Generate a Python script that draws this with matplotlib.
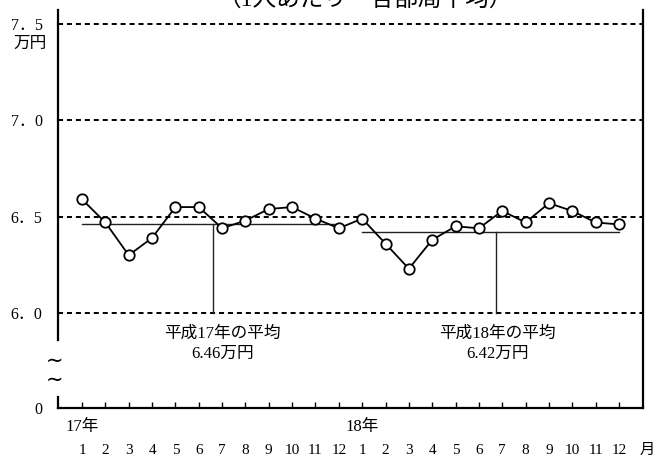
import numpy as np
import matplotlib
matplotlib.use('Agg')
import matplotlib.pyplot as plt
import matplotlib.transforms as mtransforms

plt.rcParams['font.family'] = ['Liberation Serif', 'Noto Sans CJK JP']

# データ（万円）
months = [1, 2, 3, 4, 5, 6, 7, 8, 9, 10, 11, 12,
          1, 2, 3, 4, 5, 6, 7, 8, 9, 10, 11, 12]
values = [6.59, 6.47, 6.30, 6.39, 6.55, 6.55, 6.44, 6.48, 6.54, 6.55, 6.49, 6.44,
          6.49, 6.36, 6.23, 6.38, 6.45, 6.44, 6.53, 6.47, 6.57, 6.53, 6.47, 6.46]
year_labels = ['17年', '18年']
avg_values = [6.46, 6.42]
avg_labels = ['平成17年の平均\n6.46万円', '平成18年の平均\n6.42万円']
grid_values = [6.0, 6.5, 7.0, 7.5]
ytick_labels = ['0', '6．0', '6．5', '7．0', '7．5']

x = np.arange(len(values))
ybottom = 5.507

fig = plt.figure(figsize=(6.55, 4.59), dpi=100)
ax = fig.add_axes([58/655, 51/459, 585/655, 398/459])

# 平均線と縦線
for i, (avg, lab) in enumerate(zip(avg_values, avg_labels)):
    x0 = i * 12
    ax.plot([x0, x0 + 11], [avg, avg], color='#222222', lw=1.0, zorder=2)
    xv = x0 + (5.6 if i == 0 else 5.75)
    ax.plot([xv, xv], [6.0, avg], color='#222222', lw=1.0, zorder=2)
    ax.text(x0 + (6.0 if i == 0 else 5.8), 5.84, lab, ha='center', va='center',
            fontsize=12, linespacing=1.35)

# 点線グリッド
for g in grid_values:
    ax.axhline(g, color='black', lw=1.4, linestyle=(0, (2.6, 2.0)), zorder=1)

# 折れ線
ax.plot(x, values, color='black', lw=1.3, marker='o', markersize=7.5,
        markerfacecolor='white', markeredgecolor='black', markeredgewidth=1.3, zorder=3)

ax.set_xlim(-1.03, 24.03)
ax.set_ylim(ybottom, 7.573)

ax.set_yticks([ybottom] + grid_values)
ax.set_yticklabels(ytick_labels, fontsize=11.5)
ax.tick_params(axis='y', length=0, pad=11)

ax.set_xticks(x)
ax.set_xticklabels([str(m) for m in months], fontsize=11)
ax.tick_params(axis='x', direction='in', length=4.5, width=1, pad=26)

for s in ['top', 'left']:
    ax.spines[s].set_visible(False)
for s in ['right', 'bottom']:
    ax.spines[s].set_linewidth(1.6)

# 左軸（省略記号つき）
ax.plot([0, 0], [0, 0.028], transform=ax.transAxes, color='black', lw=1.6, clip_on=False)
ax.plot([0, 0], [0.171, 1], transform=ax.transAxes, color='black', lw=1.6, clip_on=False)
for yt in [0.12, 0.07]:
    ax.text(-0.006, yt, '∼', transform=ax.transAxes, ha='center', va='center',
            fontsize=15, family='DejaVu Sans')

# 年ラベル・単位
trans = mtransforms.blended_transform_factory(ax.transData, ax.transAxes)
for i, yl in enumerate(year_labels):
    ax.text(i * 12, -0.048, yl, transform=trans, ha='center', va='center', fontsize=12)
fig.text(647/655, 1 - 450/459, '月', ha='center', va='center', fontsize=11)
fig.text(30/655, 1 - 44/459, '万円', ha='center', va='center', fontsize=12)

fig.text(365/655, 1 + 1/459, '（1人あたり－各部局平均）', ha='center', va='center', fontsize=17)

fig.savefig('out.png', dpi=100)
